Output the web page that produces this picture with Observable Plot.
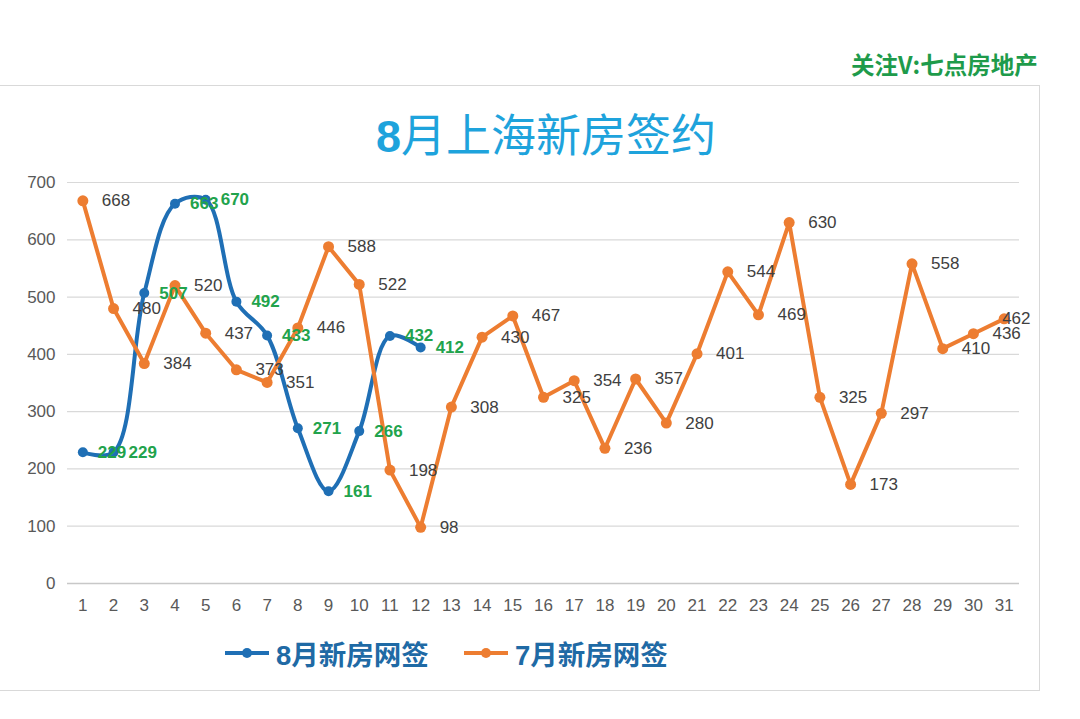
<!DOCTYPE html>
<html>
<head>
<meta charset="utf-8">
<script src="https://cdn.jsdelivr.net/npm/d3@7"></script>
<script src="https://cdn.jsdelivr.net/npm/@observablehq/plot@0.6"></script>
<style>
  html, body { margin: 0; padding: 0; background: #fff; }
  body { width: 1080px; height: 719px; overflow: hidden; position: relative;
         font-family: "Liberation Sans", "Noto Sans CJK SC", sans-serif; }
  #chart { position: absolute; left: 0; top: 0; }
  #frame { position: absolute; left: -2px; top: 85px; width: 1042px; height: 606px;
           border: 1px solid #d9d9d9; box-sizing: border-box; }
  #watermark { position: absolute; left: 851px; top: 47px; font-size: 23.5px; font-weight: bold;
               color: #1e9b4b; font-family: "Noto Sans CJK SC", sans-serif; white-space: nowrap; }
  #title { position: absolute; left: 0; width: 1092px; top: 106px; text-align: center;
           font-size: 45px; color: #1ea3dc; font-family: "Noto Sans CJK SC", sans-serif; line-height: 1.2; }
  #title b { font-family: "Liberation Sans", sans-serif; font-weight: bold; }
  .legend { position: absolute; top: 633px; display: flex; align-items: center; white-space: nowrap;
            font-size: 27.5px; font-weight: bold; color: #1f6aa5; font-family: "Noto Sans CJK SC", sans-serif; }
  .legend b { font-family: "Liberation Sans", sans-serif; }
  .legend svg { margin-right: 7px; }
</style>
</head>
<body>
<div id="frame"></div>
<div id="watermark">关注V:七点房地产</div>
<div id="title"><b>8</b>月上海新房签约</div>
<div id="chart"></div>
<div class="legend" style="left:225px"><svg width="44" height="12"><line x1="0" y1="6" x2="44" y2="6" stroke="#1f6fb5" stroke-width="4"/><circle cx="22" cy="6" r="5" fill="#1f6fb5"/></svg><span><b>8</b>月新房网签</span></div>
<div class="legend" style="left:464px"><svg width="44" height="12"><line x1="0" y1="6" x2="44" y2="6" stroke="#ed7d31" stroke-width="4"/><circle cx="22" cy="6" r="5" fill="#ed7d31"/></svg><span><b>7</b>月新房网签</span></div>
<script>
// Days of the month (x categories)
const days = Array.from({length: 31}, (_, i) => i + 1);
// y-axis tick labels
const yTicks = [0, 100, 200, 300, 400, 500, 600, 700];
// 8月新房网签 (days 1–12)
const augDays = [1, 2, 3, 4, 5, 6, 7, 8, 9, 10, 11, 12];
const augValues = [229, 229, 507, 663, 670, 492, 433, 271, 161, 266, 432, 412];
// 7月新房网签 (days 1–31)
const julValues = [668, 480, 384, 520, 437, 373, 351, 446, 588, 522, 198, 98, 308, 430, 467,
                   325, 354, 236, 357, 280, 401, 544, 469, 630, 325, 173, 297, 558, 410, 436, 462];

const aug = augDays.map((d, i) => ({day: d, v: augValues[i]}));
const jul = days.map((d, i) => ({day: d, v: julValues[i]}));
const lastDay = days[days.length - 1];

const BLUE = "#1f6fb5", ORANGE = "#ed7d31", GREEN = "#22a34c", GRAY = "#404040";

const chart = Plot.plot({
  width: 1080,
  height: 719,
  marginLeft: 67,
  marginRight: 61,
  marginTop: 182,
  marginBottom: 136,
  style: {background: "transparent", fontFamily: "Liberation Sans, Arial, sans-serif", overflow: "visible"},
  x: {type: "linear", domain: [0.5, 31.5]},
  y: {domain: [0, 700]},
  marks: [
    Plot.gridY(yTicks, {stroke: "#d9d9d9", strokeOpacity: 1, strokeWidth: 1.2}),
    Plot.ruleY([0], {stroke: "#c8c8c8", strokeWidth: 1.5}),
    Plot.axisY(yTicks, {tickSize: 0, tickPadding: 12, fontSize: 17, fill: "#595959", label: null}),
    Plot.axisX(days, {tickSize: 0, tickPadding: 15, fontSize: 17, fill: "#595959", label: null, tickFormat: d => String(d)}),
    Plot.line(aug, {x: "day", y: "v", stroke: BLUE, strokeWidth: 4, curve: "catmull-rom"}),
    Plot.dot(aug, {x: "day", y: "v", r: 5, fill: BLUE}),
    Plot.line(jul, {x: "day", y: "v", stroke: ORANGE, strokeWidth: 4}),
    Plot.dot(jul, {x: "day", y: "v", r: 5.5, fill: ORANGE}),
    Plot.text(jul.filter(d => d.day !== lastDay), {x: "day", y: "v", text: d => String(d.v), dx: 19, textAnchor: "start", fontSize: 17, fill: GRAY}),
    Plot.text(jul.filter(d => d.day === lastDay), {x: "day", y: "v", text: d => String(d.v), dx: -2, textAnchor: "start", fontSize: 17, fill: GRAY}),
    Plot.text(aug, {x: "day", y: "v", text: d => String(d.v), dx: 15, textAnchor: "start", fontSize: 17, fontWeight: "bold", fill: GREEN})
  ]
});
document.getElementById("chart").appendChild(chart);
</script>
</body>
</html>
